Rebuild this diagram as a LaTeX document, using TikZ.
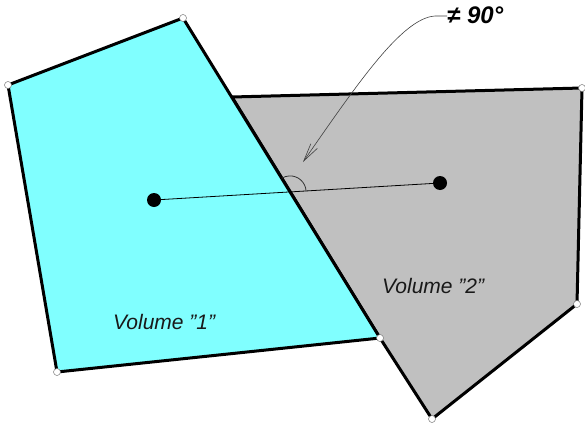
\documentclass[tikz,border=0pt]{standalone}
\usepackage{fontspec}
\setmainfont{Liberation Sans}
\usetikzlibrary{arrows.meta,calc}
\definecolor{cyanfill}{RGB}{128,255,255}
\definecolor{grayfill}{RGB}{192,192,192}
\definecolor{vtx}{RGB}{120,120,120}
\tikzset{
  edge/.style={line width=3pt, line join=round},
  vtxmark/.style={draw=vtx, line width=0.5pt, fill=white, circle, inner sep=0pt, minimum size=7pt},
  centroid/.style={fill=black, circle, inner sep=0pt, minimum size=14pt},
  vlabel/.style={font=\itshape\fontsize{21}{24}\selectfont, anchor=base west, inner sep=0pt, text=black!90},
}
\begin{document}
\begin{tikzpicture}[x=1pt,y=1pt]
\useasboundingbox (0,0) rectangle (585,-428);
% vertices
\coordinate (a1) at (8,-85);
\coordinate (a2) at (183,-18);
\coordinate (s) at (380,-338);
\coordinate (a4) at (57,-372);
\coordinate (b1) at (232,-97);
\coordinate (b2) at (582,-88);
\coordinate (b3) at (577,-304);
\coordinate (b4) at (432,-419);
% volume 2 (gray)
\filldraw[edge, fill=grayfill] (b1) -- (b2) -- (b3) -- (b4) -- (s) -- cycle;
% volume 1 (cyan)
\filldraw[edge, fill=cyanfill] (a1) -- (a2) -- (s) -- (a4) -- cycle;
% vertex marks
\foreach \p in {a1,a2,s,a4,b2,b3,b4}
  \node[vtxmark] at (\p) {};
% centroids and connecting line
\node[centroid] (c1) at (154,-200) {};
\node[centroid] (c2) at (440,-183) {};
\draw[line width=0.8pt] (c1.center) -- (c2.center);
% angle mark
\coordinate (i) at (290.1,-191.9);
\draw[line width=0.8pt, black!80] ($(i)+(3.4:16)$) arc[start angle=3.4, end angle=121.6, radius=16];
% labels
\node[vlabel] (v1) at (113,-329) {Volume "1"};
\node[vlabel] (v2) at (382,-293) {Volume "2"};
\node[font=\bfseries\itshape\fontsize{24}{28}\selectfont, anchor=base west, inner sep=0pt] (ang) at (447,-24) {≠ 90°};
% arrow
\coordinate (tip) at (303,-162);
\draw[line width=0.6pt, black!75, -{Straight Barb[length=18pt,width=8pt]}] (ang.west |- 0,-16) -- (438,-16) .. controls (405,-14) and (360,-80) .. (tip);
\end{tikzpicture}
\end{document}
